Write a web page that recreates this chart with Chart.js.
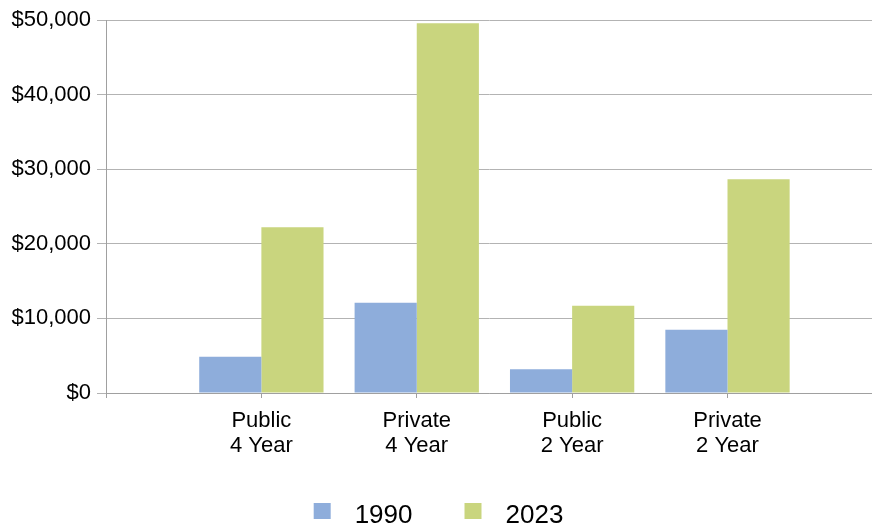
<!DOCTYPE html>
<html>
<head>
<meta charset="utf-8">
<script src="https://cdn.jsdelivr.net/npm/chart.js@4.4.1/dist/chart.umd.min.js"></script>
<style>
  html, body { margin: 0; padding: 0; background: #fff; }
  #wrap { width: 872px; height: 529px; }
</style>
</head>
<body>
<div id="wrap"><canvas id="chartCosts"></canvas></div>
<script>
// Costo anual por tipo de institución, 1990 vs 2023
const categories = [['Public', '4 Year'], ['Private', '4 Year'], ['Public', '2 Year'], ['Private', '2 Year']];
const values1990 = [4870, 12100, 3180, 8490];
const values2023 = [22210, 49560, 11700, 28640];
const seriesNames = ['1990', '2023'];
const seriesColors = ['#8eaddb', '#c9d57e'];
const yTicks = [0, 10000, 20000, 30000, 40000, 50000];

const FONT = "'Liberation Sans', Arial, sans-serif";

function fmtMoney(v) {
  return '$' + Number(v).toLocaleString('en-US');
}

// cuadrito de leyenda (un poco arriba del centro del texto)
function makeSwatch(color) {
  const c = document.createElement('canvas');
  c.width = 33;
  c.height = 30;
  const g = c.getContext('2d');
  g.fillStyle = color;
  g.fillRect(5, 2, 17, 16);
  return c;
}
const swatches = seriesColors.map(makeSwatch);

const toPoints = (vals) => vals.map((v, i) => ({ x: i + 1, y: v }));

new Chart(document.getElementById('chartCosts'), {
  type: 'bar',
  data: {
    datasets: [
      { label: seriesNames[0], data: toPoints(values1990), backgroundColor: seriesColors[0] },
      { label: seriesNames[1], data: toPoints(values2023), backgroundColor: seriesColors[1] }
    ]
  },
  options: {
    responsive: true,
    maintainAspectRatio: false,
    animation: false,
    categoryPercentage: 0.8,
    barPercentage: 1.0,
    layout: { padding: { top: 20, left: 0, right: 0, bottom: 0 } },
    plugins: {
      tooltip: { enabled: false },
      legend: {
        position: 'bottom',
        maxHeight: 73,
        labels: {
          usePointStyle: true,
          pointStyleWidth: 33,
          padding: 47,
          color: '#000',
          font: { family: FONT, size: 26 },
          generateLabels: (chart) =>
            Chart.defaults.plugins.legend.labels.generateLabels(chart)
              .map((item, i) => ({ ...item, pointStyle: swatches[i] }))
        }
      }
    },
    scales: {
      x: {
        type: 'linear',
        min: 0,
        max: 4.93,
        offset: false,
        afterBuildTicks: (scale) => {
          scale.ticks = scale.ticks.filter(t => Number.isInteger(t.value));
        },
        afterFit: (scale) => { scale.height = 63; },
        grid: {
          offset: false,
          drawOnChartArea: false,
          drawTicks: true,
          tickLength: 5,
          color: '#a0a0a0'
        },
        border: { display: true, color: '#a0a0a0' },
        ticks: {
          stepSize: 1,
          autoSkip: false,
          maxRotation: 0,
          padding: 10,
          color: '#000',
          font: { family: FONT, size: 22, lineHeight: 1.15 },
          callback: (v) => categories[v - 1] || ''
        }
      },
      y: {
        min: 0,
        max: 50000,
        afterBuildTicks: (scale) => {
          scale.ticks = yTicks.map(v => ({ value: v }));
        },
        afterFit: (scale) => { scale.width = 106; },
        grid: { color: '#b3b3b3', tickLength: 9 },
        border: { display: true, color: '#a0a0a0' },
        ticks: {
          padding: 6,
          color: '#000',
          font: { family: FONT, size: 22 },
          callback: (v) => fmtMoney(v)
        }
      }
    }
  }
});
</script>
</body>
</html>
